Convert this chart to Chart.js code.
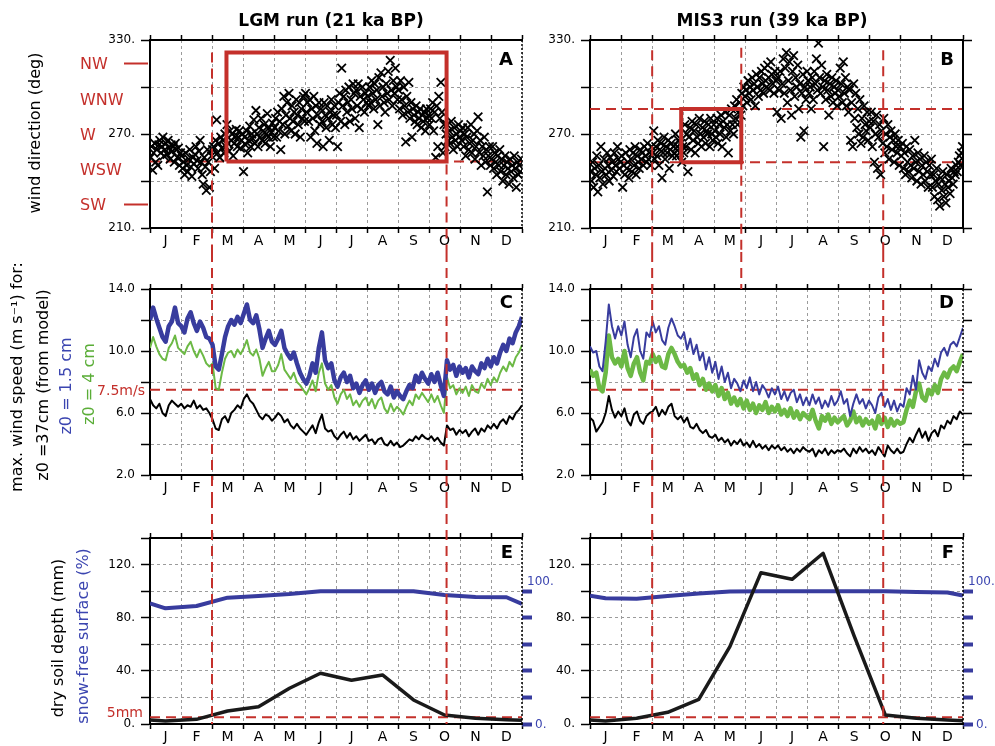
<!DOCTYPE html>
<html>
<head>
<meta charset="utf-8">
<script src="https://cdn.jsdelivr.net/npm/chart.js@4.4.1/dist/chart.umd.min.js"></script>
<style>
  html, body { margin: 0; padding: 0; background: #fff; }
  body { width: 995px; height: 746px; position: relative; overflow: hidden; }
  canvas { position: absolute; }
</style>
</head>
<body>
<canvas id="cA" width="560" height="252" style="left:0;top:0"></canvas>
<canvas id="cB" width="470" height="252" style="left:525px;top:0"></canvas>
<canvas id="cC" width="560" height="246" style="left:0;top:252px"></canvas>
<canvas id="cD" width="470" height="246" style="left:525px;top:252px"></canvas>
<canvas id="cE" width="560" height="248" style="left:0;top:498px"></canvas>
<canvas id="cF" width="470" height="248" style="left:525px;top:498px"></canvas>
<script>
// ---- categories / ticks ----
const MONTHS = ["J", "F", "M", "A", "M", "J", "J", "A", "S", "O", "N", "D"];
const MONTH_MID = MONTHS.map((m, i) => i * 30 + 15);
const MONTH_EDGE = [0, 30, 60, 90, 120, 150, 180, 210, 240, 270, 300, 330, 360];
const DIR_TICKS = [210, 240, 270, 300, 330];
const WIND_TICKS = [2, 4, 6, 8, 10, 12, 14];
const SOIL_TICKS = [0, 20, 40, 60, 80, 100, 120, 140];
const SNOW_TICKS = [0, 20, 40, 60, 80, 100];
const COMPASS = ["NW", "WNW", "W", "WSW", "SW"];
const COMPASS_DEG = [315, 292.5, 270, 247.5, 225];

// ---- daily wind direction (deg), 360-day year ----
const lgmDir = [
  255,262,247,258,264,252,260,250,263,266,258,262,268,256,260,264,257,266,261,254,263,259,262,252,264,260,255,261,250,258,
  256,248,252,244,258,250,246,254,260,249,243,255,251,257,262,253,248,259,266,252,244,238,255,249,234,260,252,236,246,256,
  260,262,248,266,279,258,264,255,268,261,266,258,270,262,276,264,259,272,266,270,256,264,268,273,262,268,272,261,266,270,
  246,268,263,272,258,266,275,262,270,267,279,264,285,270,262,274,268,280,266,272,276,264,270,283,268,274,262,271,277,268,
  274,280,268,284,272,278,260,286,276,294,270,282,290,275,296,280,272,288,278,284,270,292,282,276,290,268,286,280,294,278,
  296,284,290,278,292,268,286,280,294,272,288,264,282,290,276,286,278,262,290,282,274,288,280,266,284,292,276,282,288,274,
  282,262,290,296,278,312,288,294,276,298,284,290,300,278,292,286,302,296,280,298,288,302,274,294,286,300,292,284,296,290,
  294,288,300,290,304,296,286,302,292,298,276,306,288,309,294,300,290,284,302,296,310,292,317,298,288,304,296,312,300,292,
  298,286,304,292,282,300,288,265,294,284,303,280,290,268,286,282,278,288,276,284,280,286,274,282,278,284,272,286,280,282,
  276,286,280,290,272,284,255,288,262,294,280,303,284,258,276,262,270,276,266,272,264,278,268,260,274,266,270,262,276,268,
  272,266,274,262,270,256,268,274,260,264,276,258,266,270,254,262,272,281,258,266,250,262,256,268,252,260,233,256,262,250,
  254,262,248,258,252,244,256,250,260,246,254,240,250,256,244,252,248,238,254,246,250,242,256,248,236,252,244,250,246,254
];
const mis3Dir = [
  246,240,252,236,248,244,256,233,250,242,262,246,238,254,248,244,258,250,240,255,247,252,243,258,250,246,262,254,248,252,
  256,236,250,244,258,248,252,242,260,254,246,258,250,262,244,256,252,248,260,254,258,250,262,256,252,264,254,258,250,262,
  258,272,254,262,256,266,250,260,264,242,258,268,254,262,258,266,248,260,264,256,262,258,270,256,262,266,258,264,252,262,
  258,276,262,270,246,268,274,260,278,266,272,258,276,268,264,280,270,262,274,268,278,264,272,270,276,262,280,270,266,276,
  272,268,280,264,276,270,282,262,278,274,284,268,276,258,282,272,286,276,270,288,280,292,276,284,290,282,296,288,300,294,
  298,290,304,296,300,292,306,298,302,288,308,300,294,306,298,310,302,296,312,304,300,314,306,298,316,308,302,296,310,304,
  284,306,298,310,280,302,318,296,312,322,290,304,316,298,282,310,320,294,306,300,314,286,302,268,296,308,272,300,292,310,
  304,296,300,286,306,292,310,302,318,298,328,306,296,314,300,262,304,292,308,298,282,302,294,306,290,300,296,304,288,298,
  294,312,302,290,316,296,306,288,300,284,298,266,290,262,302,280,296,274,286,270,292,264,280,268,288,276,272,284,266,278,
  274,284,262,278,252,270,282,248,268,276,244,272,264,280,258,270,262,276,254,268,272,260,266,252,270,262,258,266,250,262,
  256,264,248,258,244,262,252,246,260,250,242,256,248,266,252,240,258,246,254,238,250,244,256,240,252,246,236,250,244,254,
  236,244,230,240,248,228,238,224,242,234,246,230,238,226,244,236,240,232,248,242,238,246,244,250,246,252,256,250,258,262
];

// ---- max wind speed (m/s), every 3rd day ----
const lgmWind15 = [
  12.0,12.8,12.1,11.5,10.9,10.6,11.6,11.9,12.8,11.8, 11.6,11.2,12.1,12.5,11.8,11.3,11.9,11.5,10.9,10.8,
  10.4,9.0,8.8,9.8,10.9,11.6,12.0,11.7,12.2,11.8, 12.4,13.0,12.0,11.8,12.3,11.4,10.2,10.8,11.3,10.6,
  10.4,10.8,11.3,10.2,9.8,9.5,9.9,9.2,8.6,8.2, 7.9,8.4,9.2,8.6,10.2,11.2,9.4,8.9,9.2,8.1,
  7.7,8.3,8.6,8.0,8.4,7.6,7.9,7.3,7.8,8.1, 7.5,7.9,7.3,7.8,8.0,7.4,7.2,7.7,7.0,7.4,
  7.1,6.9,7.4,7.8,7.6,8.4,8.0,8.6,8.2,7.9, 8.5,8.0,8.6,7.8,7.1,9.4,8.8,9.1,8.4,9.0,
  8.6,8.9,8.3,9.0,8.7,8.5,9.2,8.9,9.5,9.0, 9.6,9.2,9.9,10.4,10.0,10.8,10.5,11.2,11.6,12.2
];
const lgmWind4 = [
  10.2,10.9,10.3,9.8,9.5,9.4,10.2,10.5,11.0,10.2, 10.0,9.8,10.3,10.6,10.0,9.6,10.1,9.7,9.2,9.0,
  9.2,7.6,7.5,8.6,9.5,9.9,10.0,9.6,10.1,9.8, 10.2,10.7,9.9,9.7,10.1,9.5,8.4,8.9,9.3,8.7,
  8.7,9.1,9.8,8.8,8.5,8.2,8.6,8.0,7.8,7.5, 7.2,7.6,8.1,7.4,8.6,9.2,7.9,7.5,7.8,7.0,
  6.6,7.2,7.5,6.9,7.2,6.5,6.8,6.4,6.8,7.0, 6.5,6.9,6.3,6.8,7.0,6.3,6.0,6.6,6.1,6.4,
  6.2,5.9,6.4,6.8,6.5,7.2,6.9,7.3,7.0,6.7, 7.2,6.7,7.1,6.5,6.0,8.3,7.6,7.8,7.2,7.6,
  7.3,7.7,7.1,7.8,7.4,7.3,7.9,7.6,8.2,7.8, 8.3,8.0,8.6,9.0,8.7,9.3,9.0,9.6,9.9,10.4
];
const lgmWind37 = [
  6.9,6.5,6.3,6.6,6.0,5.8,6.5,6.8,6.6,6.4, 6.6,6.3,6.5,6.4,6.8,6.3,6.5,6.2,6.3,6.0,
  5.6,5.0,4.9,5.6,5.8,5.4,6.0,6.2,6.5,6.3, 6.9,7.2,6.8,6.6,6.2,5.8,5.6,5.9,5.8,5.5,
  5.7,6.0,5.8,5.4,5.6,5.2,5.0,5.3,5.0,4.8, 4.6,4.9,5.2,4.7,5.4,5.9,5.0,4.8,4.9,4.5,
  4.3,4.6,4.8,4.4,4.7,4.3,4.5,4.2,4.4,4.6, 4.2,4.3,4.0,4.3,4.4,4.0,3.9,4.2,3.9,4.1,
  3.8,3.9,4.1,4.3,4.2,4.5,4.3,4.6,4.4,4.3, 4.5,4.2,4.4,4.1,3.9,5.2,4.9,5.0,4.6,4.9,
  4.7,4.9,4.5,4.8,5.0,4.6,5.0,4.8,5.2,5.0, 5.3,5.0,5.4,5.6,5.3,5.8,5.6,6.0,6.2,6.5
];
const mis3Wind15 = [
  10.3,9.9,10.0,9.0,8.7,10.6,13.0,11.6,10.8,11.6, 11.0,11.9,10.4,9.6,10.9,11.4,10.0,9.5,11.2,10.9,
  11.9,11.2,11.6,10.7,10.4,11.5,12.1,11.6,11.0,10.8, 11.2,10.1,10.8,9.8,10.4,9.4,9.9,8.8,9.6,8.6,
  9.3,8.2,9.0,8.0,8.6,7.6,8.2,7.9,7.4,8.1, 7.6,8.3,7.4,8.0,7.2,7.8,7.5,7.0,7.6,7.2,
  7.7,6.9,7.4,6.8,7.3,7.5,6.7,7.2,6.5,7.0, 6.5,7.2,6.6,7.0,6.3,6.8,6.4,7.1,6.5,6.8,
  7.4,6.6,6.9,5.8,6.6,7.2,6.6,6.9,6.3,6.8, 6.5,6.0,7.0,7.3,6.4,6.9,6.2,6.8,6.1,6.6,
  6.4,7.6,7.2,8.4,7.5,9.4,8.6,8.2,9.0,8.7, 9.5,9.0,9.9,10.2,9.7,10.4,10.6,10.3,10.9,11.5
];
const mis3Wind4 = [
  8.8,8.4,8.6,7.6,7.4,8.6,11.0,9.6,9.2,9.5, 9.0,10.0,8.9,8.4,9.2,9.6,8.6,8.1,9.3,9.2,
  9.8,9.3,9.6,9.0,8.9,9.8,10.2,9.8,9.3,9.0, 9.1,8.6,8.9,8.2,8.5,7.8,8.2,7.5,7.9,7.4,
  7.8,7.1,7.6,6.9,7.3,6.6,7.0,6.5,6.9,6.3, 6.8,6.2,6.6,6.0,6.5,6.2,6.7,6.0,6.4,6.1,
  6.5,5.9,6.2,5.8,6.3,5.7,6.1,5.6,6.0,5.8, 5.6,6.2,5.5,5.0,5.8,5.5,5.9,5.3,5.7,5.4,
  5.6,5.8,5.2,5.5,6.1,5.4,5.7,5.2,5.6,5.3, 5.5,5.0,5.8,5.3,5.7,5.1,5.6,5.2,5.5,5.3,
  5.4,6.2,6.8,6.4,7.4,7.9,7.0,6.8,7.5,7.2, 7.8,7.3,8.2,8.6,8.3,8.8,9.0,8.7,9.3,9.8
];
const mis3Wind37 = [
  5.7,5.5,4.8,5.1,5.4,6.0,7.1,6.2,5.7,6.1, 5.8,6.3,5.5,5.2,5.9,6.1,5.5,5.3,5.8,6.0,
  6.1,6.4,5.8,6.2,5.9,6.4,6.6,5.8,5.6,5.8, 5.4,5.7,5.1,5.0,5.3,4.9,4.7,4.9,4.5,4.4,
  4.6,4.2,4.4,4.1,4.3,3.9,4.2,4.0,4.3,3.9, 4.1,3.8,4.2,3.8,4.0,3.7,3.9,3.6,3.9,3.7,
  3.9,3.6,3.8,3.5,3.7,3.4,3.7,3.5,3.8,3.6, 3.5,3.7,3.2,3.6,3.4,3.7,3.3,3.6,3.4,3.6,
  3.5,3.7,3.4,3.2,3.7,3.4,3.8,3.5,3.7,3.4, 3.6,3.3,3.8,3.5,3.2,3.9,3.6,3.4,3.7,3.4,
  3.5,4.0,4.4,4.1,4.6,5.0,4.4,4.8,4.2,4.7, 4.9,4.5,5.2,5.0,5.5,5.3,5.8,5.6,6.1,5.9
];

// ---- monthly dry soil depth (mm) and snow-free surface (%) ----
const SOIL_X = [0, 15, 45, 75, 105, 135, 165, 195, 225, 255, 285, 315, 345, 360];
const lgmSoil = [3, 2.3, 3.5, 9.8, 13, 26.9, 38.2, 32.9, 36.9, 18.1, 6.8, 4.3, 3.2, 2.8];
const lgmSnow = [90.8, 87.1, 88.8, 95.1, 96.3, 97.8, 100, 100, 100, 100, 97.1, 95.6, 95.4, 90.3];
const mis3Soil = [3, 2.3, 4.3, 8.8, 18.6, 58.2, 113.9, 108.9, 128.5, 66.2, 6.8, 4.3, 3, 2.5];
const mis3Snow = [96.6, 94.6, 94.3, 96.3, 98.3, 99.8, 100, 100, 100, 100, 100, 99.3, 99, 96.6];

// ---- thresholds / highlighted windows ----
const LGM_BOX = { x0: 74, x1: 287, y0: 252.5, y1: 322 };
const MIS3_BOX = { x0: 88, x1: 146, y0: 252, y1: 286 };
const MIS3_BAND = [252, 286];
const WIND_LIMIT = 7.5;
const SOIL_LIMIT = 5;

const FONT = "'DejaVu Sans', sans-serif";
const RED = "#c4302b", BLUE = "#383c9e", GREEN = "#6cb945", GRID = "#9b9b9b";
const LBL_BLUE = "#3b45b0", LBL_GREEN = "#5aad37";

// ---- dataset helpers ----
const scat = vals => ({
  data: vals.map((v, i) => ({ x: i + 0.5, y: v })),
  pointStyle: "crossRot", pointRadius: 6, borderColor: "#000", borderWidth: 1.8, showLine: false
});
const wline = (vals, color, w) => ({
  data: vals.map((v, i) => ({ x: i * 360 / (vals.length - 1), y: v })),
  borderColor: color, borderWidth: w, pointRadius: 0, showLine: true, tension: 0, borderJoinStyle: "round"
});
const mline = (vals, color, w, axis) => ({
  data: vals.map((v, i) => ({ x: SOIL_X[i], y: v })), yAxisID: axis || "y",
  borderColor: color, borderWidth: w, pointRadius: 0, showLine: true, tension: 0, borderJoinStyle: "round"
});
const hdash = (y, axis) => ({
  data: [{ x: 0, y: y }, { x: 360, y: y }], yAxisID: axis || "y",
  borderColor: RED, borderWidth: 2, borderDash: [10, 6], pointRadius: 0, showLine: true
});
const box = b => ({
  data: [{ x: b.x0, y: b.y0 }, { x: b.x0, y: b.y1 }, { x: b.x1, y: b.y1 }, { x: b.x1, y: b.y0 }, { x: b.x0, y: b.y0 }],
  borderColor: RED, borderWidth: 4, pointRadius: 0, showLine: true, borderJoinStyle: "miter"
});

// ---- texts, guides, frames drawn on top ----
function drawText(ctx, t) {
  ctx.font = (t.bold ? "bold " : "") + t.size + "px " + FONT;
  ctx.fillStyle = t.color || "#000";
  ctx.textBaseline = "alphabetic";
  if (t.rot) {
    ctx.save();
    ctx.translate(t.x, t.y);
    ctx.rotate(-Math.PI / 2);
    ctx.textAlign = "center";
    ctx.fillText(t.text, 0, 0);
    ctx.restore();
  } else {
    ctx.textAlign = t.align || "left";
    ctx.fillText(t.text, t.x, t.y);
  }
}

const snowLabels = ch => {
  const a = ch.chartArea, s = ch.scales.yr;
  return [
    { text: "100.", x: a.right + 5, y: s.getPixelForValue(100) - 6.6, size: 12, color: LBL_BLUE },
    { text: "0.", x: a.right + 13, y: s.getPixelForValue(0) + 4.4, size: 12, color: LBL_BLUE }
  ];
};
const letter = (ch, l, y) => ({ text: l, x: ch.chartArea.right - 9, y: y, size: 18, bold: true, align: "right" });

const DECOR = {
  cA: {
    guides: [{ day: 60, from: LGM_BOX.y1 }, { day: 287, from: LGM_BOX.y1 }],
    marks: [315, 225],
    texts: ch => {
      const sy = ch.scales.y;
      return [
        { text: "LGM run (21 ka BP)", x: 331, y: 26, size: 17, bold: true, align: "center" },
        { text: "wind direction (deg)", x: 40, y: 133, size: 16, rot: true },
        ...COMPASS.map((c, i) => ({ text: c, x: 80, y: sy.getPixelForValue(COMPASS_DEG[i]) + 5.8, size: 16, color: RED })),
        letter(ch, "A", 65)
      ];
    }
  },
  cB: {
    solidRight: true,
    guides: [{ day: 60, from: 323.5 }, { day: 146, from: 325 }, { day: 283, from: 323.5 }],
    texts: ch => [
      { text: "MIS3 run (39 ka BP)", x: 247, y: 26, size: 17, bold: true, align: "center" },
      letter(ch, "B", 65)
    ]
  },
  cC: {
    guides: [{ day: 60 }, { day: 287 }],
    texts: ch => [
      { text: "max. wind speed (m s\u207B\u00B9) for:", x: 21.5, y: 125, size: 16, rot: true },
      { text: "z0 =37cm (from model)", x: 48, y: 133, size: 16, rot: true },
      { text: "z0 = 1.5 cm", x: 71, y: 134, size: 16, rot: true, color: LBL_BLUE },
      { text: "z0 = 4 cm", x: 93.5, y: 132, size: 16, rot: true, color: LBL_GREEN },
      { text: "7.5m/s", x: 145, y: ch.scales.y.getPixelForValue(WIND_LIMIT) + 5, size: 14, color: RED, align: "right" },
      letter(ch, "C", 55.5)
    ]
  },
  cD: {
    guides: [{ day: 60 }, { day: 146, to: "top" }, { day: 283 }],
    texts: ch => [letter(ch, "D", 55.5)]
  },
  cE: {
    guides: [{ day: 60, to: "area" }, { day: 287, to: "area" }],
    texts: ch => [
      { text: "dry soil depth (mm)", x: 62.5, y: 140, size: 16, rot: true },
      { text: "snow-free surface (%)", x: 87.5, y: 138, size: 16, rot: true, color: LBL_BLUE },
      { text: "5mm", x: 143, y: ch.scales.y.getPixelForValue(SOIL_LIMIT) - 0.7, size: 14, color: RED, align: "right" },
      ...snowLabels(ch),
      letter(ch, "E", 60)
    ]
  },
  cF: {
    guides: [{ day: 60, to: "area" }, { day: 283, to: "area" }],
    texts: ch => [...snowLabels(ch), letter(ch, "F", 60)]
  }
};

const decorPlugin = {
  id: "decor",
  afterDraw(chart) {
    const d = DECOR[chart.canvas.id];
    if (!d) return;
    const ctx = chart.ctx, a = chart.chartArea, sx = chart.scales.x, sy = chart.scales.y;
    ctx.save();
    // right frame
    ctx.strokeStyle = "#000";
    if (d.solidRight) { ctx.lineWidth = 2; ctx.setLineDash([]); }
    else { ctx.lineWidth = 1.5; ctx.setLineDash([2, 2]); }
    ctx.beginPath(); ctx.moveTo(a.right, a.top); ctx.lineTo(a.right, a.bottom); ctx.stroke();
    // red season guides running through the stacked panels
    ctx.strokeStyle = RED; ctx.lineWidth = 2; ctx.setLineDash([10, 6]);
    d.guides.forEach(g => {
      const x = sx.getPixelForValue(g.day);
      const y0 = g.from === undefined ? 0 : sy.getPixelForValue(g.from);
      const y1 = g.to === "area" ? a.bottom : g.to === "top" ? a.top : chart.height;
      ctx.beginPath(); ctx.moveTo(x, y0); ctx.lineTo(x, y1); ctx.stroke();
    });
    ctx.setLineDash([]);
    // compass ticks
    (d.marks || []).forEach(v => {
      const y = sy.getPixelForValue(v);
      ctx.beginPath(); ctx.moveTo(124, y); ctx.lineTo(a.left - 2, y); ctx.stroke();
    });
    d.texts(chart).forEach(t => drawText(ctx, t));
    ctx.restore();
  }
};

// ---- panel factory ----
function panel(id, o) {
  const scales = {
    x: {
      type: "linear", min: 0, max: 360,
      afterBuildTicks: s => { s.ticks = MONTH_MID.map(v => ({ value: v })); },
      afterFit: s => { s.height = o.xh; },
      ticks: { callback: (v, i) => MONTHS[i], autoSkip: false, maxRotation: 0, padding: 0, color: "#000", font: { family: FONT, size: 14 } },
      grid: { offset: true, color: GRID, lineWidth: 1, tickColor: "#000", tickLength: 5, tickWidth: 1.5 },
      border: { color: "#000", width: 2, dash: [3, 3] }
    },
    x2: {
      type: "linear", position: "top", min: 0, max: 360,
      afterBuildTicks: s => { s.ticks = MONTH_EDGE.map(v => ({ value: v })); },
      afterFit: s => { s.height = 6; },
      ticks: { display: false },
      grid: { drawOnChartArea: false, tickColor: "#000", tickLength: 5, tickWidth: 1.5 },
      border: { color: "#000", width: 2 }
    },
    y: {
      type: "linear", min: o.ymin, max: o.ymax,
      afterBuildTicks: s => { s.ticks = o.yticks.map(v => ({ value: v })); },
      afterFit: s => { s.width = o.yw; },
      ticks: { callback: o.ylabel, padding: 6, color: "#000", font: { family: FONT, size: 12 }, autoSkip: false },
      grid: { color: GRID, lineWidth: 1, tickColor: "#000", tickLength: 9, tickWidth: 1.5 },
      border: { color: "#000", width: 2, dash: [3, 3] }
    }
  };
  if (o.right) {
    scales.yr = {
      type: "linear", position: "right", min: o.ymin, max: o.ymax,
      afterBuildTicks: s => { s.ticks = o.right.ticks.map(v => ({ value: v })); },
      afterFit: s => { s.width = 10; },
      ticks: { display: false },
      grid: { drawOnChartArea: false, tickColor: o.right.color, tickLength: o.right.len, tickWidth: o.right.width },
      border: { display: false }
    };
  }
  return new Chart(document.getElementById(id), {
    type: "scatter",
    data: { datasets: o.datasets },
    options: {
      responsive: false, animation: false, events: [],
      layout: { padding: { top: o.padTop, left: 0, right: o.padRight, bottom: 0 } },
      plugins: { legend: { display: false }, tooltip: { enabled: false } },
      scales: scales
    },
    plugins: [decorPlugin]
  });
}

const dirLabel = v => ((v - 210) % 60 === 0 ? v + "." : "");
const windLabel = v => ((v - 2) % 4 === 0 ? v.toFixed(1) : "");
const soilLabel = v => (v % 40 === 0 && v < 140 ? v + "." : "");

const DIR_AXIS = { ymin: 210, ymax: 330, yticks: DIR_TICKS, ylabel: dirLabel, padTop: 34, xh: 24 };
const WIND_AXIS = { ymin: 2, ymax: 14, yticks: WIND_TICKS, ylabel: windLabel, padTop: 31, xh: 23 };
const SOIL_AXIS = { ymin: 0, ymax: 140, yticks: SOIL_TICKS, ylabel: soilLabel, padTop: 34, xh: 22 };
const LEFT_COL = { yw: 150, padRight: 38 };
const RIGHT_COL = { yw: 65, padRight: 22 };
const SNOW_RIGHT = { ticks: SNOW_TICKS, color: BLUE, len: 10, width: 4 };

panel("cA", Object.assign({}, DIR_AXIS, LEFT_COL, {
  datasets: [box(LGM_BOX), scat(lgmDir), hdash(LGM_BOX.y0)]
}));
panel("cB", Object.assign({}, DIR_AXIS, RIGHT_COL, {
  right: { ticks: DIR_TICKS, color: "#000", len: 9, width: 1.5 },
  datasets: [box(MIS3_BOX), scat(mis3Dir), hdash(MIS3_BAND[0]), hdash(MIS3_BAND[1])]
}));
panel("cC", Object.assign({}, WIND_AXIS, LEFT_COL, {
  datasets: [wline(lgmWind15, BLUE, 4.5), wline(lgmWind4, GREEN, 2), wline(lgmWind37, "#000", 2), hdash(WIND_LIMIT)]
}));
panel("cD", Object.assign({}, WIND_AXIS, RIGHT_COL, {
  right: { ticks: WIND_TICKS, color: "#000", len: 9, width: 1.5 },
  datasets: [wline(mis3Wind15, BLUE, 2), wline(mis3Wind4, GREEN, 4.5), wline(mis3Wind37, "#000", 2), hdash(WIND_LIMIT)]
}));
panel("cE", Object.assign({}, SOIL_AXIS, LEFT_COL, {
  padRight: 28, right: SNOW_RIGHT,
  datasets: [mline(lgmSoil, "#1a1a1a", 3.5), mline(lgmSnow, BLUE, 4, "yr"), hdash(SOIL_LIMIT)]
}));
panel("cF", Object.assign({}, SOIL_AXIS, RIGHT_COL, {
  right: SNOW_RIGHT,
  datasets: [mline(mis3Soil, "#1a1a1a", 3.5), mline(mis3Snow, BLUE, 4, "yr"), hdash(SOIL_LIMIT)]
}));
</script>
</body>
</html>
